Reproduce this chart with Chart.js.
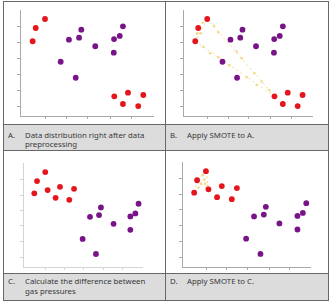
<!DOCTYPE html>
<html>
<head>
<meta charset="utf-8">
<script src="https://cdn.jsdelivr.net/npm/chart.js@4.4.1/dist/chart.umd.min.js"></script>
<style>
  html, body { margin: 0; padding: 0; background: #fff; }
  body { width: 331px; height: 308px; position: relative; overflow: hidden; font-family: "Noto Sans", sans-serif; }
  canvas { position: absolute; }
  .ln { position: absolute; background: #686868; z-index: 3; }
  .cap { position: absolute; background: #dcdcdc; color: #383838; font-size: 7.8px; line-height: 9.5px; z-index: 2; }
  .cap .k { position: absolute; left: 4px; }
  .cap .t { position: absolute; left: 21px; white-space: nowrap; }
</style>
</head>
<body>

<div class="cap" style="left:4px;top:125px;width:161px;height:25px;"><span class="k" style="top:5.5px">A.</span><span class="t" style="top:5.5px">Data distribution right after data<br>preprocessing</span></div>
<div class="cap" style="left:166px;top:125px;width:162px;height:25px;"><span class="k" style="top:5.5px">B.</span><span class="t" style="top:5.5px">Apply SMOTE to A.</span></div>
<div class="cap" style="left:4px;top:274px;width:161px;height:26px;"><span class="k" style="top:3px">C.</span><span class="t" style="top:3px">Calculate the difference between<br>gas pressures</span></div>
<div class="cap" style="left:166px;top:274px;width:162px;height:26px;"><span class="k" style="top:3px">D.</span><span class="t" style="top:3px">Apply SMOTE to C.</span></div>

<div class="ln" style="left:3px;top:1px;width:1px;height:300px;"></div>
<div class="ln" style="left:165px;top:1px;width:1px;height:300px;"></div>
<div class="ln" style="left:328px;top:1px;width:1px;height:300px;"></div>
<div class="ln" style="left:3px;top:1px;width:326px;height:1px;"></div>
<div class="ln" style="left:3px;top:124px;width:326px;height:1px;"></div>
<div class="ln" style="left:3px;top:150px;width:326px;height:1px;"></div>
<div class="ln" style="left:3px;top:273px;width:326px;height:1px;"></div>
<div class="ln" style="left:3px;top:300px;width:326px;height:1px;"></div>

<script>
// A / B: data right after preprocessing
const redX1 = [1.88, 1.18, 0.95, 8.12, 7.09, 9.27, 7.74, 8.89];
const redY1 = [9.15, 8.30, 7.05, 2.20, 1.86, 1.98, 1.13, 0.94];
const purpleX1 = [4.61, 3.68, 4.44, 5.66, 3.06, 4.19, 7.74, 7.50, 7.07, 7.05];
const purpleY1 = [8.14, 7.20, 7.39, 6.58, 5.12, 3.61, 8.46, 7.55, 7.26, 5.97];

// C / D: difference between gas pressures
const redX2 = [1.87, 1.18, 0.95, 2.07, 3.11, 2.74, 4.29, 3.89];
const redY2 = [9.13, 8.26, 7.08, 7.40, 7.71, 6.65, 7.52, 6.46];
const purpleX2 = [6.55, 5.63, 6.39, 7.61, 5.01, 6.13, 9.71, 9.44, 9.02, 9.02];
const purpleY2 = [5.73, 4.82, 4.99, 4.15, 2.70, 1.25, 6.08, 5.15, 4.86, 3.57];

// SMOTE synthetic samples
const smoteX1 = [2.40, 2.74, 4.16, 4.55, 5.53, 6.10, 6.69, 1.57, 2.09, 2.74, 3.59, 4.94, 5.71, 1.53, 1.11, 1.40];
const smoteY1 = [8.52, 7.89, 6.07, 5.44, 4.03, 3.24, 2.45, 6.54, 5.92, 5.54, 4.78, 3.65, 2.92, 8.80, 7.80, 7.80];
const smoteX2 = [1.63, 1.74, 1.48, 1.81, 1.29, 1.99];
const smoteY2 = [8.73, 8.32, 7.94, 7.94, 7.56, 7.71];

// neighbour links (indices into the red arrays)
const links1 = [[0, 4], [2, 4], [0, 1], [1, 2], [0, 2]];
const links2 = [[0, 1], [0, 3], [1, 2], [1, 3]];

// tick mark positions
const xTicks = [1.9, 3.5, 5.1, 6.8, 8.4];
const yTicks = [0.9, 2.45, 3.95, 5.45, 6.9, 8.4];

const RED = '#e5151c';
const PURPLE = '#781488';
const SMOTE = 'rgba(240, 214, 120, 0.85)';

const pts = (xs, ys) => xs.map((x, i) => ({ x: x, y: ys[i] }));

function axis(pos, vals, color) {
  return {
    type: 'linear',
    position: pos,
    min: 0,
    max: 10,
    afterBuildTicks: a => { a.ticks = vals.map(v => ({ value: v })); },
    ticks: { display: false },
    grid: { drawOnChartArea: false, drawTicks: true, tickLength: 3, color: color },
    border: { display: true, color: color }
  };
}

function makePanel(box, xs, ys, px, py, smote, links, axisColor) {
  const pad = 6, tick = 3;
  const w = box.r - box.l, h = box.b - box.t;
  const cv = document.createElement('canvas');
  cv.width = pad + tick + w + pad;
  cv.height = pad + h + tick + pad;
  cv.style.left = (box.l - tick - pad) + 'px';
  cv.style.top = (box.t - pad) + 'px';
  document.body.appendChild(cv);

  const datasets = [
    { data: pts(xs, ys), backgroundColor: RED, pointRadius: 2.9, borderWidth: 0, order: 0 },
    { data: pts(px, py), backgroundColor: PURPLE, pointRadius: 2.9, borderWidth: 0, order: 0 }
  ];
  if (smote) {
    datasets.push({ data: pts(smote[0], smote[1]), backgroundColor: SMOTE, pointRadius: 1.3, borderWidth: 0, order: 1 });
    links.forEach(l => {
      datasets.push({
        data: [{ x: xs[l[0]], y: ys[l[0]] }, { x: xs[l[1]], y: ys[l[1]] }],
        showLine: true, borderColor: SMOTE, borderWidth: 1, borderDash: [2, 3],
        pointRadius: 0, order: 2
      });
    });
  }

  new Chart(cv, {
    type: 'scatter',
    data: { datasets: datasets },
    options: {
      responsive: false,
      animation: false,
      events: [],
      layout: { padding: pad },
      clip: false,
      plugins: { legend: { display: false }, tooltip: { enabled: false } },
      scales: {
        x: axis('bottom', xTicks, axisColor),
        y: axis('left', yTicks, axisColor)
      }
    }
  });
}

makePanel({ l: 20, t: 10, r: 153, b: 116 }, redX1, redY1, purpleX1, purpleY1, null, null, '#a8a8a8');
makePanel({ l: 183, t: 10, r: 312, b: 116 }, redX1, redY1, purpleX1, purpleY1, [smoteX1, smoteY1], links1, '#a8a8a8');
makePanel({ l: 23, t: 163, r: 142, b: 267 }, redX2, redY2, purpleX2, purpleY2, null, null, '#d4d4d4');
makePanel({ l: 182, t: 162, r: 310, b: 267 }, redX2, redY2, purpleX2, purpleY2, [smoteX2, smoteY2], links2, '#a8a8a8');
</script>
</body>
</html>
